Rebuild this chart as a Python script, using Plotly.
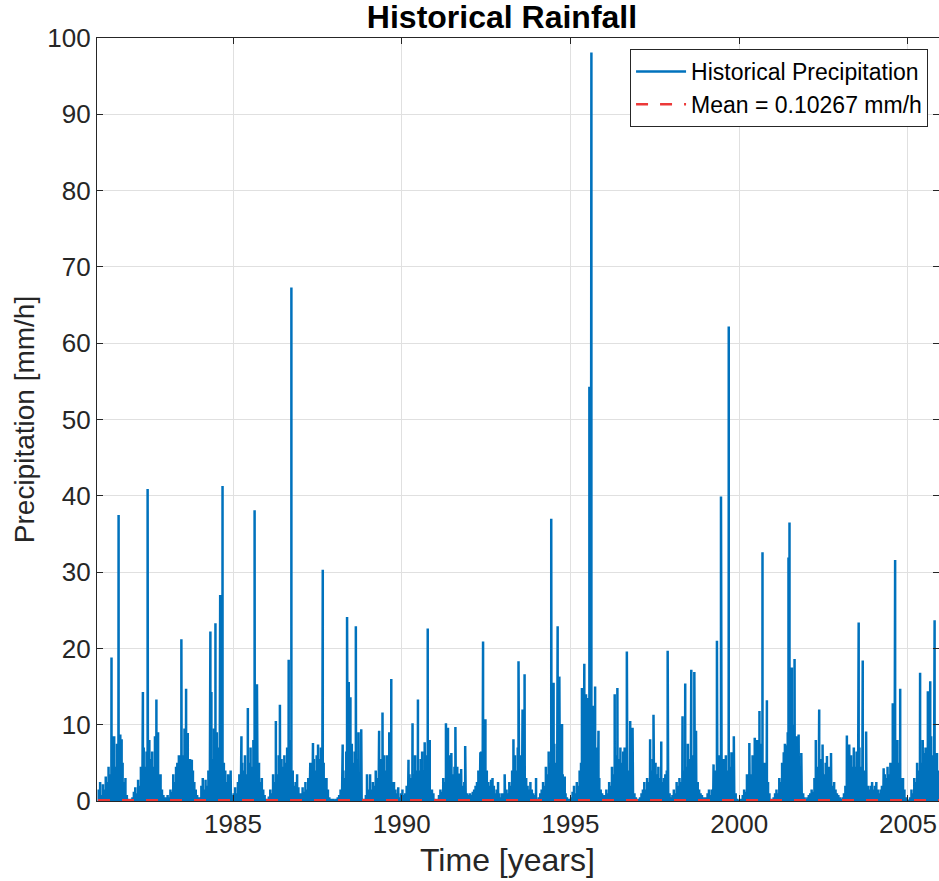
import plotly.graph_objects as go

# ---------------- data ----------------
bg_years = list(range(1981, 2006))
# semi-monthly background rainfall level (mm/h), 24 values per year
bg_levels = [
    [1.5,2.5,0.8,2.2,1.5,3.2,2.5,4.5,3.5,7.0,5.0,8.5,4.5,7.5,5.5,8.2,4.5,5.0,2.5,3.0,0.8,0.3,0.2,0.3],
    [0.5,1.2,1.8,1.0,2.8,2.0,4.5,3.5,7.0,4.5,6.5,5.0,8.0,5.5,6.5,4.5,8.5,5.0,6.0,3.0,3.5,1.5,0.8,0.5],
    [0.5,0.8,0.5,1.5,1.2,3.5,2.5,4.5,3.5,6.0,5.0,9.0,6.0,9.5,6.5,8.0,4.5,5.5,3.5,4.0,2.5,1.5,0.8,0.5],
    [0.5,2.0,3.0,1.5,2.8,2.0,4.0,3.5,7.0,5.5,9.5,6.5,9.0,7.0,10.0,6.5,9.5,5.0,4.0,2.5,3.5,2.0,1.0,0.8],
    [1.0,1.8,1.0,2.5,3.5,2.5,5.0,4.0,6.0,3.5,6.5,5.0,7.0,4.5,8.0,5.5,6.5,4.0,5.0,2.5,3.0,1.5,0.8,0.3],
    [0.3,0.6,1.5,1.0,3.5,2.5,5.5,3.5,6.0,4.0,5.5,4.5,6.0,5.0,7.0,4.5,8.0,5.0,4.0,2.0,2.5,1.5,1.8,1.0],
    [1.0,1.8,1.2,2.5,1.5,3.0,2.5,5.0,3.5,5.5,4.0,6.0,4.5,5.5,7.0,4.5,5.0,3.0,3.0,1.5,0.5,0.3,0.3,0.3],
    [0.2,0.3,0.5,0.8,1.5,2.5,4.0,3.0,6.5,4.5,7.0,5.0,7.5,5.0,6.5,4.0,5.5,3.5,3.0,1.0,0.3,0.3,0.8,1.5],
    [1.5,3.5,1.5,2.5,2.0,4.0,3.0,6.0,4.0,5.5,3.5,6.0,4.0,6.0,3.5,5.0,4.0,2.5,2.5,1.5,1.0,1.8,0.5,1.0],
    [1.5,0.8,1.0,2.0,1.5,3.5,3.0,5.0,3.5,6.0,4.0,5.5,4.0,5.5,6.5,4.0,5.0,6.0,3.0,3.0,1.5,1.5,1.0,0.3],
    [0.2,0.3,0.8,1.5,1.2,3.0,2.5,5.0,4.0,6.0,3.5,5.0,3.5,4.5,3.0,4.5,2.5,3.5,3.0,2.0,2.5,1.5,1.0,0.8],
    [1.0,0.8,1.2,1.5,2.0,2.5,4.0,3.5,6.5,4.5,7.5,4.0,4.0,2.5,2.0,2.8,1.5,2.0,1.0,1.5,2.5,1.0,0.5,1.0],
    [0.8,1.2,1.5,1.0,2.5,2.0,4.0,3.0,6.0,4.0,7.0,4.5,6.0,4.0,5.0,3.0,3.0,2.0,1.5,2.5,1.5,1.0,0.8,0.5],
    [0.3,0.5,1.0,1.5,2.5,2.0,4.5,3.5,6.5,5.0,8.0,5.5,7.5,5.0,8.0,5.5,6.0,4.0,3.5,2.5,1.0,0.5,0.3,0.3],
    [0.5,1.2,2.0,1.0,2.5,2.0,4.0,5.0,8.5,7.0,12.0,9.5,13.5,10.0,14.0,10.5,12.5,8.0,7.0,4.0,3.0,1.5,1.0,0.8],
    [0.8,1.5,1.0,2.5,2.0,4.5,3.5,7.0,6.0,9.0,5.5,7.0,5.0,6.5,7.0,5.0,6.5,4.0,4.0,2.5,2.0,1.0,0.5,0.3],
    [0.3,0.5,1.0,1.5,2.5,1.5,3.0,2.5,5.0,4.0,5.5,3.5,5.0,3.5,4.5,3.0,4.0,2.5,3.0,2.5,4.0,2.0,1.0,0.5],
    [0.8,1.5,1.0,2.5,2.0,3.0,2.5,5.0,4.0,7.0,4.5,7.5,5.5,8.0,4.5,6.0,4.0,3.5,2.5,1.5,1.0,0.8,0.5,0.5],
    [0.5,1.0,1.5,0.8,1.5,2.5,2.0,4.0,3.5,6.0,4.0,6.5,4.5,5.5,6.0,4.0,7.0,4.5,4.0,2.5,2.0,1.0,0.3,0.2],
    [0.2,0.3,0.8,1.5,1.2,3.5,2.5,5.0,3.5,6.0,4.5,6.5,4.5,7.0,5.0,7.5,8.0,5.0,5.0,3.0,2.5,1.0,0.3,0.3],
    [0.5,1.0,1.5,1.0,3.0,2.5,5.0,4.0,7.5,5.5,9.0,6.5,9.5,7.0,10.0,6.5,8.5,5.0,6.5,3.0,2.0,1.0,0.5,0.3],
    [0.5,0.8,1.0,1.5,1.2,3.0,2.5,4.5,3.5,5.5,4.0,6.0,3.5,5.0,3.0,4.5,3.0,3.5,2.0,2.5,1.5,1.0,0.8,0.5],
    [0.3,0.5,1.0,2.0,1.5,4.0,3.0,6.0,4.5,7.0,4.5,6.5,5.0,7.0,4.5,6.0,3.5,4.0,2.5,2.0,1.5,2.0,2.5,1.5],
    [2.0,2.5,1.5,1.0,1.5,2.0,1.8,3.5,3.0,4.5,3.5,5.0,4.0,6.0,4.5,7.0,8.0,5.0,5.0,3.0,3.0,1.5,0.5,0.2],
    [0.2,0.5,1.5,1.0,3.0,2.5,5.0,4.0,7.0,5.0,8.0,5.5,7.0,5.0,8.0,5.5,8.5,6.0,9.0,5.0,6.0,4.0,3.0,2.0],
]

# individual storm peaks (decimal year, mm/h)
peak_years = [
    1981.40, 1981.43, 1981.61, 1981.66, 1981.70,
    1982.33, 1982.47, 1982.73, 1982.78,
    1983.35, 1983.47, 1983.61, 1983.66, 1983.78,
    1984.33, 1984.36, 1984.48, 1984.62, 1984.69, 1984.87, 1984.93,
    1985.25, 1985.44, 1985.64, 1985.71,
    1986.27, 1986.39, 1986.65, 1986.73, 1986.90,
    1987.29, 1987.37, 1987.52, 1987.66,
    1988.25, 1988.38, 1988.43, 1988.48, 1988.64, 1988.72, 1988.80, 1988.97,
    1989.33, 1989.43, 1989.63, 1989.69,
    1990.20, 1990.32, 1990.48, 1990.57, 1990.68, 1990.77, 1990.83,
    1991.31, 1991.37, 1991.47, 1991.59, 1991.71, 1991.76, 1991.88,
    1992.33, 1992.41, 1992.48, 1992.69,
    1993.05, 1993.31, 1993.46, 1993.58, 1993.64, 1993.98,
    1994.43, 1994.50, 1994.62, 1994.67, 1994.75, 1994.83,
    1995.34, 1995.41, 1995.46, 1995.56, 1995.62, 1995.73, 1995.83,
    1996.31, 1996.39, 1996.48, 1996.67, 1996.77, 1996.84,
    1997.36, 1997.46, 1997.69, 1997.81, 1997.88,
    1998.32, 1998.40, 1998.58, 1998.67, 1998.72,
    1999.24, 1999.34, 1999.46, 1999.54, 1999.69, 1999.77, 1999.84,
    2000.30, 2000.46, 2000.53, 2000.60, 2000.69, 2000.82,
    2001.32, 2001.39, 2001.46, 2001.49, 2001.56, 2001.64, 2001.76, 2001.84,
    2002.27, 2002.37, 2002.47, 2002.60, 2002.72,
    2003.19, 2003.26, 2003.39, 2003.47, 2003.54, 2003.66, 2003.76,
    2004.28, 2004.55, 2004.62, 2004.77,
    2005.36, 2005.46, 2005.59, 2005.66, 2005.79, 2005.86,
]
peak_values = [
    18.8, 8.5, 37.5, 8.7, 8.1,
    14.3, 40.9, 13.3, 9.0,
    5.0, 21.2, 14.7, 8.9, 5.4,
    22.2, 14.3, 23.3, 27.0, 41.3, 3.5, 4.0,
    8.5, 12.2, 38.1, 15.3,
    10.5, 12.6, 18.5, 67.3, 3.5,
    5.0, 7.6, 7.4, 30.3,
    7.4, 24.1, 15.6, 13.6, 22.9, 9.0, 9.4, 3.5,
    9.2, 11.6, 9.0, 16.0,
    5.4, 10.2, 13.3, 5.5, 7.7, 22.6, 8.0,
    10.2, 9.6, 6.3, 9.7, 3.6, 4.2, 7.2,
    6.4, 20.9, 10.7, 3.0,
    3.5, 8.1, 18.3, 12.0, 16.6, 3.0,
    37.0, 15.5, 22.9, 16.3, 10.1, 3.2,
    14.8, 18.0, 14.0, 54.3, 98.1, 15.0, 9.2,
    14.0, 14.8, 6.4, 19.6, 10.5, 9.6,
    8.1, 11.3, 7.8, 3.5, 19.7,
    11.1, 15.4, 17.2, 16.9, 9.2,
    4.8, 21.0, 39.9, 5.5, 62.2, 6.4, 8.5,
    7.6, 8.3, 8.0, 11.8, 32.6, 13.2,
    6.4, 7.3, 31.9, 36.5, 17.5, 18.6, 8.7, 6.3,
    8.0, 12.0, 7.4, 5.9, 6.3,
    8.6, 7.4, 6.5, 5.5, 23.4, 18.4, 9.1,
    4.3, 12.8, 31.6, 14.7,
    16.8, 6.3, 14.4, 15.7, 23.7, 6.3,
]

mean_value = 0.10267
period = [1981.0, 2006.0]
x_ticks = [1985, 1990, 1995, 2000, 2005]
y_ticks = list(range(0, 101, 10))

# ---------------- build series ----------------
samples = []
for yr, levels in zip(bg_years, bg_levels):
    n = len(levels)
    for k, v in enumerate(levels):
        samples.append((yr + (k + 0.5) / n, v))
samples += list(zip(peak_years, peak_values))
samples.sort()

xs, ys = [], []
for t, v in samples:
    xs += [t, t, t]
    ys += [0, v, 0]

fig = go.Figure()
fig.add_trace(go.Scatter(
    x=xs, y=ys, mode="lines", name="Historical Precipitation",
    line=dict(color="#0072BD", width=2.5),
))
fig.add_trace(go.Scatter(
    x=period, y=[mean_value, mean_value], mode="lines",
    name="Mean = 0.10267 mm/h",
    line=dict(color="rgb(236,56,56)", width=2.5, dash="12px,12px"),
))

font_family = "Liberation Sans, Arial, sans-serif"
axis_common = dict(
    showline=True, linecolor="#262626", linewidth=1.2, mirror="ticks",
    ticks="inside", ticklen=6, tickcolor="#262626", tickwidth=1,
    showgrid=True, gridcolor="#e0e0e0", gridwidth=1,
    zeroline=False,
    tickfont=dict(family=font_family, size=26, color="#262626"),
)

fig.update_layout(
    width=939, height=881,
    margin=dict(l=97, r=0, t=38, b=80),
    paper_bgcolor="white", plot_bgcolor="white",
    title=dict(text="<b>Historical Rainfall</b>", x=502 / 939, xref="container",
               xanchor="center", y=1 - 17 / 881, yanchor="middle",
               font=dict(family=font_family, size=32, color="black")),
    xaxis=dict(range=[1980.97, 2005.92], tickvals=x_ticks,
               ticktext=[str(v) for v in x_ticks], **axis_common),
    yaxis=dict(range=[0, 100], tickvals=y_ticks,
               title=dict(text="Precipitation [mm/h]", standoff=4,
                          font=dict(family=font_family, size=28, color="#262626")),
               **axis_common),
    legend=dict(x=0.987, xanchor="right", y=1 - 11 / 763, yanchor="top",
                bgcolor="white", bordercolor="#262626", borderwidth=1,
                font=dict(family=font_family, size=23, color="black"),
                tracegroupgap=0, itemwidth=50),
    showlegend=True,
    annotations=[dict(
        text="Time [years]", xref="paper", yref="paper",
        x=(507.5 - 97) / 842, y=-(860 - 801) / 763,
        xanchor="center", yanchor="middle", showarrow=False,
        font=dict(family=font_family, size=32, color="#262626"),
    )],
)

fig.write_html("out.html")
